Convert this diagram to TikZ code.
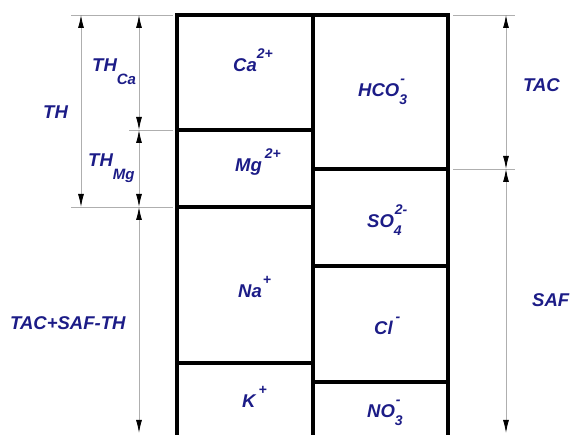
\documentclass[tikz,border=0pt]{standalone}
\usepackage{fontspec}
\setmainfont{Liberation Sans}
\usetikzlibrary{arrows.meta}
\definecolor{ink}{RGB}{28,28,135}
\definecolor{dimgray}{RGB}{175,175,175}
\newcommand{\ionsup}[1]{\raisebox{13pt}{\fontsize{14}{14}\selectfont #1}}
\newcommand{\ionboth}[2]{\makebox[0pt][l]{\raisebox{13pt}{\fontsize{14}{14}\selectfont\hspace{1pt}#2}}\raisebox{-8pt}{\fontsize{14}{14}\selectfont #1}}
\newcommand{\dimsub}[1]{\raisebox{-13pt}{\fontsize{15}{15}\selectfont #1}}
\begin{document}
\begin{tikzpicture}[x=1pt,y=-1pt,
  box/.style={draw=black,line width=3.2pt,rectangle,inner sep=0pt,outer sep=0pt},
  lbl/.style={text=ink,font=\fontsize{18.5}{22}\selectfont\bfseries\itshape,inner sep=0pt,anchor=base west},
  ext/.style={draw=dimgray,line width=0.9pt},
  dimline/.style={draw=dimgray,line width=0.9pt,{Latex[length=13pt,width=6pt,color=black]}-{Latex[length=13pt,width=6pt,color=black]}}]
\useasboundingbox (0,0) rectangle (571,435);
\clip (0,0) rectangle (571,435);
% boxes
\node[box,minimum width=136pt,minimum height=115pt] (ca) at (245,72.5) {};
\node[box,minimum width=136pt,minimum height=77pt] (mg) at (245,168.5) {};
\node[box,minimum width=136pt,minimum height=156pt] (na) at (245,285) {};
\node[box,minimum width=136pt,minimum height=97pt] (k) at (245,411.5) {};
\node[box,minimum width=135pt,minimum height=154pt] (hco) at (380.5,92) {};
\node[box,minimum width=135pt,minimum height=97pt] (so) at (380.5,217.5) {};
\node[box,minimum width=135pt,minimum height=116pt] (cl) at (380.5,324) {};
\node[box,minimum width=135pt,minimum height=78pt] (no) at (380.5,421) {};
% ion labels
\node[lbl] (tca) at (233,72) {Ca\ionsup{2+}};
\node[lbl] (tmg) at (235,172) {Mg\hspace{3pt}\ionsup{2+}};
\node[lbl] (tna) at (238,298) {Na\hspace{1pt}\ionsup{+}};
\node[lbl] (tk) at (242,408) {K\hspace{3pt}\ionsup{+}};
\node[lbl] (thco) at (358,97) {HCO\ionboth{3}{-}};
\node[lbl] (tso) at (367,228) {SO\ionboth{4}{2-}};
\node[lbl] (tcl) at (374,335) {Cl\hspace{3pt}\ionsup{-}};
\node[lbl] (tno) at (367,418) {NO\ionboth{3}{-}};
% dimension labels
\node[lbl] (lth) at (43,119) {TH};
\node[lbl] (lthca) at (92,72) {TH\dimsub{Ca}};
\node[lbl] (lthmg) at (88,167) {TH\dimsub{Mg}};
\node[lbl] (ltst) at (10,330) {TAC+SAF-TH};
\node[lbl] (ltac) at (523,92) {TAC};
\node[lbl] (lsaf) at (532,307) {SAF};
% extension line coordinates
\coordinate (e1a) at (71,15);  \coordinate (e1b) at (173,15);
\coordinate (e2a) at (129,130); \coordinate (e2b) at (173,130);
\coordinate (e3a) at (71,207); \coordinate (e3b) at (173,207);
\coordinate (e4a) at (453,15); \coordinate (e4b) at (515,15);
\coordinate (e5a) at (453,169); \coordinate (e5b) at (515,169);
\draw[ext] (e1a) -- (e1b);
\draw[ext] (e2a) -- (e2b);
\draw[ext] (e3a) -- (e3b);
\draw[ext] (e4a) -- (e4b);
\draw[ext] (e5a) -- (e5b);
% dimension line coordinates
\coordinate (d1t) at (81,15); \coordinate (d1b) at (81,207);
\coordinate (d2t) at (139,15); \coordinate (d2m) at (139,130); \coordinate (d2n) at (139,207); \coordinate (d2b) at (139,433);
\coordinate (d3t) at (506,15); \coordinate (d3m) at (506,169); \coordinate (d3b) at (506,433);
\draw[dimline] (d1t) -- (d1b);
\draw[dimline] (d2t) -- (d2m);
\draw[dimline] (d2m) -- (d2n);
\draw[dimline] (d2n) -- (d2b);
\draw[dimline] (d3t) -- (d3m);
\draw[dimline] (d3m) -- (d3b);
\end{tikzpicture}
\end{document}
